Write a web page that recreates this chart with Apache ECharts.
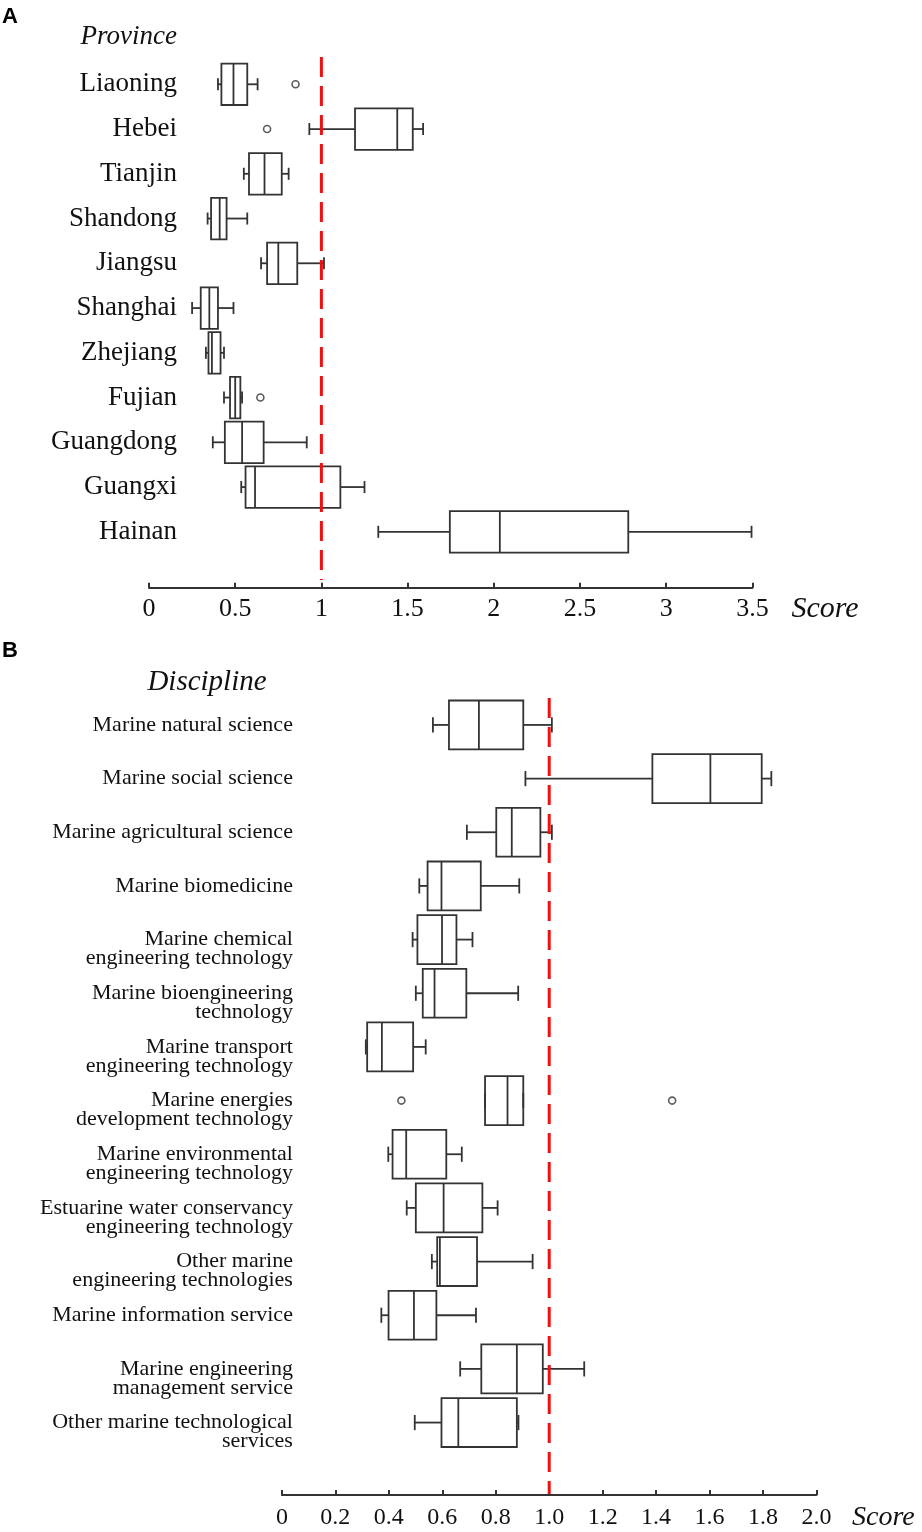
<!DOCTYPE html>
<html>
<head>
<meta charset="utf-8">
<script src="https://cdn.jsdelivr.net/npm/echarts@6/dist/echarts.min.js"></script>
<style>
  html, body { margin: 0; padding: 0; background: #fff; }
  #chart { width: 922px; height: 1532px; }
</style>
</head>
<body>
<div id="chart"></div>
<script>
// panel A: provinces, five-number summaries [min, q1, median, q3, max]
var provinces = ['Liaoning', 'Hebei', 'Tianjin', 'Shandong', 'Jiangsu', 'Shanghai',
  'Zhejiang', 'Fujian', 'Guangdong', 'Guangxi', 'Hainan']
var provinceStats = [
  [0.40, 0.42, 0.49, 0.57, 0.63],
  [0.93, 1.195, 1.44, 1.53, 1.59],
  [0.55, 0.58, 0.67, 0.77, 0.81],
  [0.34, 0.36, 0.41, 0.45, 0.57],
  [0.65, 0.685, 0.75, 0.86, 1.015],
  [0.25, 0.30, 0.35, 0.40, 0.49],
  [0.33, 0.345, 0.365, 0.415, 0.435],
  [0.435, 0.47, 0.50, 0.53, 0.54],
  [0.37, 0.44, 0.54, 0.665, 0.915],
  [0.535, 0.56, 0.615, 1.11, 1.25],
  [1.33, 1.745, 2.035, 2.78, 3.495]
]
// [category index, value]
var provinceOutliers = [[0, 0.85], [1, 0.685], [7, 0.646]]

// panel B: disciplines
var disciplines = [
  'Marine natural science',
  'Marine social science',
  'Marine agricultural science',
  'Marine biomedicine',
  'Marine chemical\nengineering technology',
  'Marine bioengineering\ntechnology',
  'Marine transport\nengineering technology',
  'Marine energies\ndevelopment technology',
  'Marine environmental\nengineering technology',
  'Estuarine water conservancy\nengineering technology',
  'Other marine\nengineering technologies',
  'Marine information service',
  'Marine engineering\nmanagement service',
  'Other marine technological\nservices'
]
var disciplineStats = [
  [0.565, 0.625, 0.737, 0.903, 1.01],
  [0.911, 1.386, 1.603, 1.795, 1.831],
  [0.692, 0.802, 0.86, 0.967, 1.01],
  [0.514, 0.545, 0.597, 0.744, 0.888],
  [0.489, 0.507, 0.599, 0.653, 0.713],
  [0.501, 0.527, 0.571, 0.69, 0.884],
  [0.314, 0.319, 0.374, 0.491, 0.538],
  [0.76, 0.76, 0.844, 0.903, 0.903],
  [0.398, 0.414, 0.465, 0.615, 0.673],
  [0.467, 0.501, 0.605, 0.75, 0.807],
  [0.561, 0.581, 0.591, 0.73, 0.938],
  [0.372, 0.399, 0.494, 0.578, 0.726],
  [0.667, 0.746, 0.879, 0.976, 1.131],
  [0.497, 0.597, 0.66, 0.879, 0.885]
]
var disciplineOutliers = [[7, 0.447], [7, 1.46]]

var refValue = 1
var scoreRangeA = [0, 3.5]
var scoreRangeB = [0, 2]

var ink = '#333'
var serif = "'Times New Roman', 'Liberation Serif', serif"

function toRows(stats) {
  return stats.map(function (s, i) { return [i].concat(s) })
}
function toPoints(list) {
  return list.map(function (o) { return [o[1], o[0]] })
}

// box with short whisker caps, drawn through the axis scales
function boxRenderer(boxRatio, capRatio) {
  return function (params, api) {
    var c = api.value(0)
    var lo = api.coord([api.value(1), c])
    var q1 = api.coord([api.value(2), c])
    var md = api.coord([api.value(3), c])
    var q3 = api.coord([api.value(4), c])
    var hi = api.coord([api.value(5), c])
    var h = api.size([0, 1])[1] * boxRatio / 2
    var cap = h * capRatio
    var y = lo[1]
    var st = { stroke: ink, fill: null, lineWidth: 1.8 }
    function seg(x1, y1, x2, y2) {
      return { type: 'line', shape: { x1: x1, y1: y1, x2: x2, y2: y2 }, style: st }
    }
    return {
      type: 'group',
      children: [
        seg(lo[0], y, q1[0], y),
        seg(q3[0], y, hi[0], y),
        seg(lo[0], y - cap, lo[0], y + cap),
        seg(hi[0], y - cap, hi[0], y + cap),
        { type: 'rect', shape: { x: q1[0], y: y - h, width: q3[0] - q1[0], height: 2 * h },
          style: { stroke: ink, fill: 'rgba(0,0,0,0)', lineWidth: 1.8 } },
        seg(md[0], y - h, md[0], y + h)
      ]
    }
  }
}

function valueAxis(grid, range, step, fontSize, offset, margin, nameSize, nameGap, fmt) {
  return {
    type: 'value', gridIndex: grid, min: range[0], max: range[1], interval: step,
    offset: offset,
    name: 'Score', nameLocation: 'end', nameGap: nameGap,
    nameTextStyle: { fontFamily: serif, fontStyle: 'italic', fontSize: nameSize, color: '#111',
      verticalAlign: 'top', lineHeight: nameSize, padding: [margin - 2, 0, 0, 0] },
    axisLine: { show: true, lineStyle: { color: ink, width: 2 } },
    axisTick: { show: true, inside: true, length: 5, lineStyle: { color: ink, width: 2 } },
    axisLabel: { fontFamily: serif, fontSize: fontSize, color: '#111', margin: margin, formatter: fmt },
    splitLine: { show: false }
  }
}

function hiddenAxis(grid, type, range) {
  return { type: type, gridIndex: grid, min: range[0], max: range[1], show: false,
    splitLine: { show: false } }
}

var chart = echarts.init(document.getElementById('chart'))

var option = {
  animation: false,
  backgroundColor: '#fff',
  grid: [
    { left: 149, right: 169.6, top: 61.9, height: 492.3 },
    { left: 149, right: 169.6, top: 57, height: 523 },
    { left: 281.9, right: 105.5, top: 698.1, height: 753 },
    { left: 281.9, right: 105.5, top: 698, height: 796 }
  ],
  xAxis: [
    valueAxis(0, scoreRangeA, 0.5, 26, 33.5, 8, 30, 39),
    hiddenAxis(1, 'value', scoreRangeA),
    valueAxis(2, scoreRangeB, 0.2, 24, 45.6, 11, 28, 35.5, function (v) {
      return v === 0 ? '0' : v.toFixed(1)
    }),
    hiddenAxis(3, 'value', scoreRangeB)
  ],
  yAxis: [
    {
      type: 'category', gridIndex: 0, data: provinces, inverse: true, offset: -28,
      axisLine: { show: false }, axisTick: { show: false },
      axisLabel: { interval: 0, fontFamily: serif, fontSize: 27, color: '#111', margin: 0 }
    },
    hiddenAxis(1, 'value', [0, 1]),
    {
      type: 'category', gridIndex: 2, data: disciplines, inverse: true, offset: -11,
      axisLine: { show: false }, axisTick: { show: false },
      axisLabel: {
        interval: 0, hideOverlap: false,
        fontFamily: serif, fontSize: 22, lineHeight: 19, color: '#111', margin: 0,
        // first line sits on the category centre, second hangs below
        formatter: function (v) { return v.indexOf('\n') >= 0 ? '\n' + v : v }
      }
    },
    hiddenAxis(3, 'value', [0, 1])
  ],
  series: [
    {
      type: 'custom', xAxisIndex: 0, yAxisIndex: 0,
      renderItem: boxRenderer(0.927, 0.29),
      encode: { y: 0, x: [1, 2, 3, 4, 5] },
      data: toRows(provinceStats)
    },
    {
      type: 'scatter', xAxisIndex: 0, yAxisIndex: 0,
      symbol: 'circle', symbolSize: 7,
      itemStyle: { color: '#fff', borderColor: ink, borderWidth: 1.6 },
      data: toPoints(provinceOutliers)
    },
    {
      type: 'line', xAxisIndex: 1, yAxisIndex: 1, symbol: 'none',
      lineStyle: { color: '#ee1111', width: 3, type: [20, 9] },
      data: [[refValue, 1], [refValue, 0]]
    },
    {
      type: 'custom', xAxisIndex: 2, yAxisIndex: 2,
      renderItem: boxRenderer(0.911, 0.31),
      encode: { y: 0, x: [1, 2, 3, 4, 5] },
      data: toRows(disciplineStats)
    },
    {
      type: 'scatter', xAxisIndex: 2, yAxisIndex: 2,
      symbol: 'circle', symbolSize: 7,
      itemStyle: { color: '#fff', borderColor: ink, borderWidth: 1.6 },
      data: toPoints(disciplineOutliers)
    },
    {
      type: 'line', xAxisIndex: 3, yAxisIndex: 3, symbol: 'none',
      lineStyle: { color: '#ee1111', width: 3, type: [20, 9] },
      data: [[refValue, 1], [refValue, 0]]
    }
  ],
  graphic: [
    { type: 'text', x: 2, y: 17, style: { text: 'A', font: 'bold 22px Arial, "Liberation Sans", sans-serif',
      fill: '#000', textVerticalAlign: 'middle' } },
    { type: 'text', x: 177, y: 37, style: { text: 'Province', font: 'italic 27px ' + serif,
      fill: '#111', textAlign: 'right', textVerticalAlign: 'middle' } },
    { type: 'text', x: 2, y: 651, style: { text: 'B', font: 'bold 22px Arial, "Liberation Sans", sans-serif',
      fill: '#000', textVerticalAlign: 'middle' } },
    { type: 'text', x: 207, y: 682, style: { text: 'Discipline', font: 'italic 29px ' + serif,
      fill: '#111', textAlign: 'center', textVerticalAlign: 'middle' } }
  ]
}

chart.setOption(option)
</script>
</body>
</html>
